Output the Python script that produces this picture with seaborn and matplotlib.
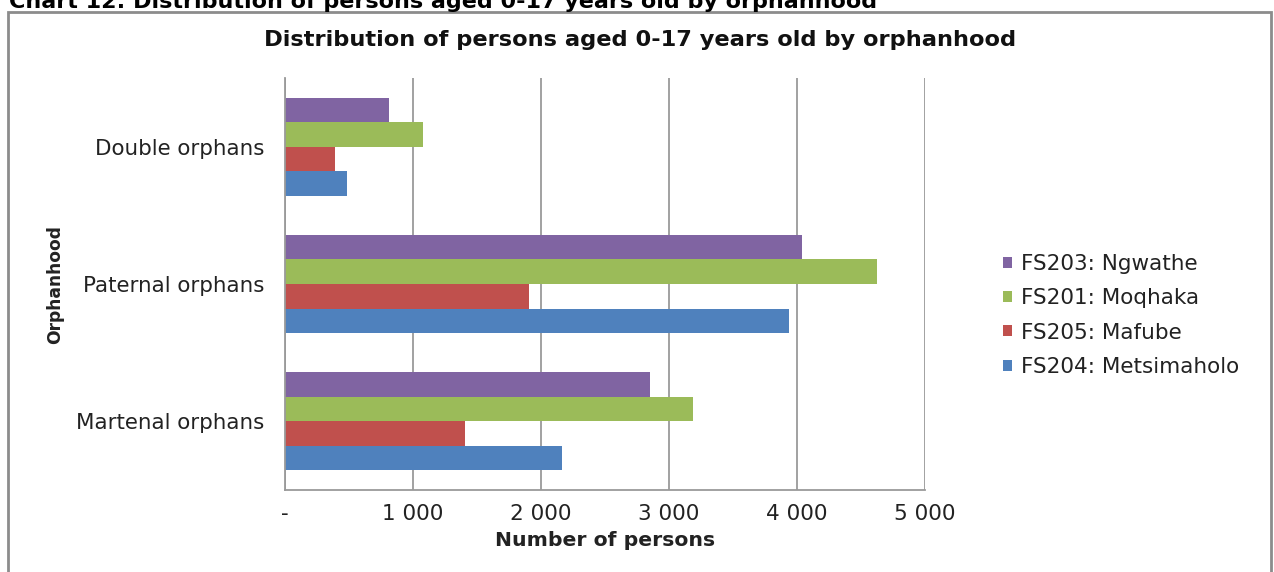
import matplotlib
matplotlib.use("Agg")
import matplotlib.pyplot as plt
from matplotlib.patches import Rectangle, Patch
from matplotlib.ticker import FixedLocator, FuncFormatter
import seaborn as sns
import pandas as pd

# Orphanhood categories (top to bottom) and persons aged 0-17 per municipality
categories = ["Double orphans", "Paternal orphans", "Martenal orphans"]
municipalities = ["FS203: Ngwathe", "FS201: Moqhaka", "FS205: Mafube", "FS204: Metsimaholo"]
ngwathe = [812, 4042, 2850]
moqhaka = [1080, 4623, 3185]
mafube = [392, 1910, 1404]
metsimaholo = [485, 3934, 2164]
x_ticks = [0, 1000, 2000, 3000, 4000, 5000]
x_tick_labels = ["-", "1 000", "2 000", "3 000", "4 000", "5 000"]
colors = ["#8064A2", "#9BBB59", "#C0504D", "#4F81BD"]

rows = []
for name, vals in zip(municipalities, [ngwathe, moqhaka, mafube, metsimaholo]):
    for cat, v in zip(categories, vals):
        rows.append({"Orphanhood": cat, "Municipality": name, "Persons": v})
df = pd.DataFrame(rows)

sns.set_style("white")
plt.rcParams["font.family"] = ["DejaVu Sans"]

W, H = 1274, 572
fig = plt.figure(figsize=(W / 100, H / 100), dpi=100)
fig.patch.set_facecolor("white")

ax = fig.add_axes([285 / W, 1 - 490 / H, 640 / W, 412 / H])
sns.barplot(data=df, y="Orphanhood", x="Persons", hue="Municipality",
            order=categories, hue_order=municipalities, palette=colors,
            orient="h", width=0.716, gap=0, saturation=1, legend=False,
            edgecolor="none", ax=ax)

grid_col = "#9a9a9a"
ax.set_xlim(0, 5000)
ax.set_ylim(2.5, -0.5)
ax.xaxis.set_major_locator(FixedLocator(x_ticks))
ax.xaxis.set_major_formatter(FuncFormatter(lambda v, p: x_tick_labels[x_ticks.index(int(round(v)))]))
ax.grid(axis="x", color=grid_col, linewidth=1.3)
ax.grid(axis="y", visible=False)
ax.set_axisbelow(True)

for s in ["top", "right"]:
    ax.spines[s].set_visible(False)
for s in ["left", "bottom"]:
    ax.spines[s].set_color(grid_col)
    ax.spines[s].set_linewidth(1.3)

ax.tick_params(axis="x", length=5, width=1.3, color=grid_col, labelsize=15.5,
               labelcolor="#222222", pad=5, direction="out")
ax.tick_params(axis="y", which="major", length=0, labelsize=15.4,
               labelcolor="#222222", pad=15)
ax.yaxis.set_minor_locator(FixedLocator([-0.5, 0.5, 1.5, 2.5]))
ax.tick_params(axis="y", which="minor", length=5, width=1.3, color=grid_col, direction="out")

ax.set_xlabel("Number of persons", fontsize=14.7, fontweight="bold", color="#222222", va="center")
ax.xaxis.set_label_coords(0.5, -(541 - 490) / 412)
ax.set_ylabel("Orphanhood", fontsize=12.3, fontweight="bold", color="#222222", va="center")
ax.yaxis.set_label_coords((55 - 285) / 640, 0.5)

handles = [Patch(facecolor=c, edgecolor="none") for c in colors]
fig.legend(handles, municipalities, loc="center left",
           bbox_to_anchor=(1003 / W, 1 - 315.5 / H), bbox_transform=fig.transFigure,
           frameon=False, fontsize=15.5, handlelength=0.4, handleheight=0.4,
           handletextpad=0.45, labelspacing=0.66, borderpad=0, borderaxespad=0,
           labelcolor="#222222")

fig.text(640 / W, 1 - 40 / H, "Distribution of persons aged 0-17 years old by orphanhood",
         ha="center", va="center", fontsize=16.2, fontweight="bold", color="#111111")

fig.text(9 / W, 1 - 8 / H, "Chart 12: Distribution of persons aged 0-17 years old by orphanhood",
         ha="left", va="baseline", fontsize=16, fontweight="bold", color="#000000")

fig.patches.append(Rectangle((8 / W, -0.05), (1271 - 8) / W, 1.05 - 12 / H,
                             transform=fig.transFigure, fill=False,
                             edgecolor="#8c8c8c", linewidth=2))

fig.savefig("out.png", dpi=100, facecolor="white")
